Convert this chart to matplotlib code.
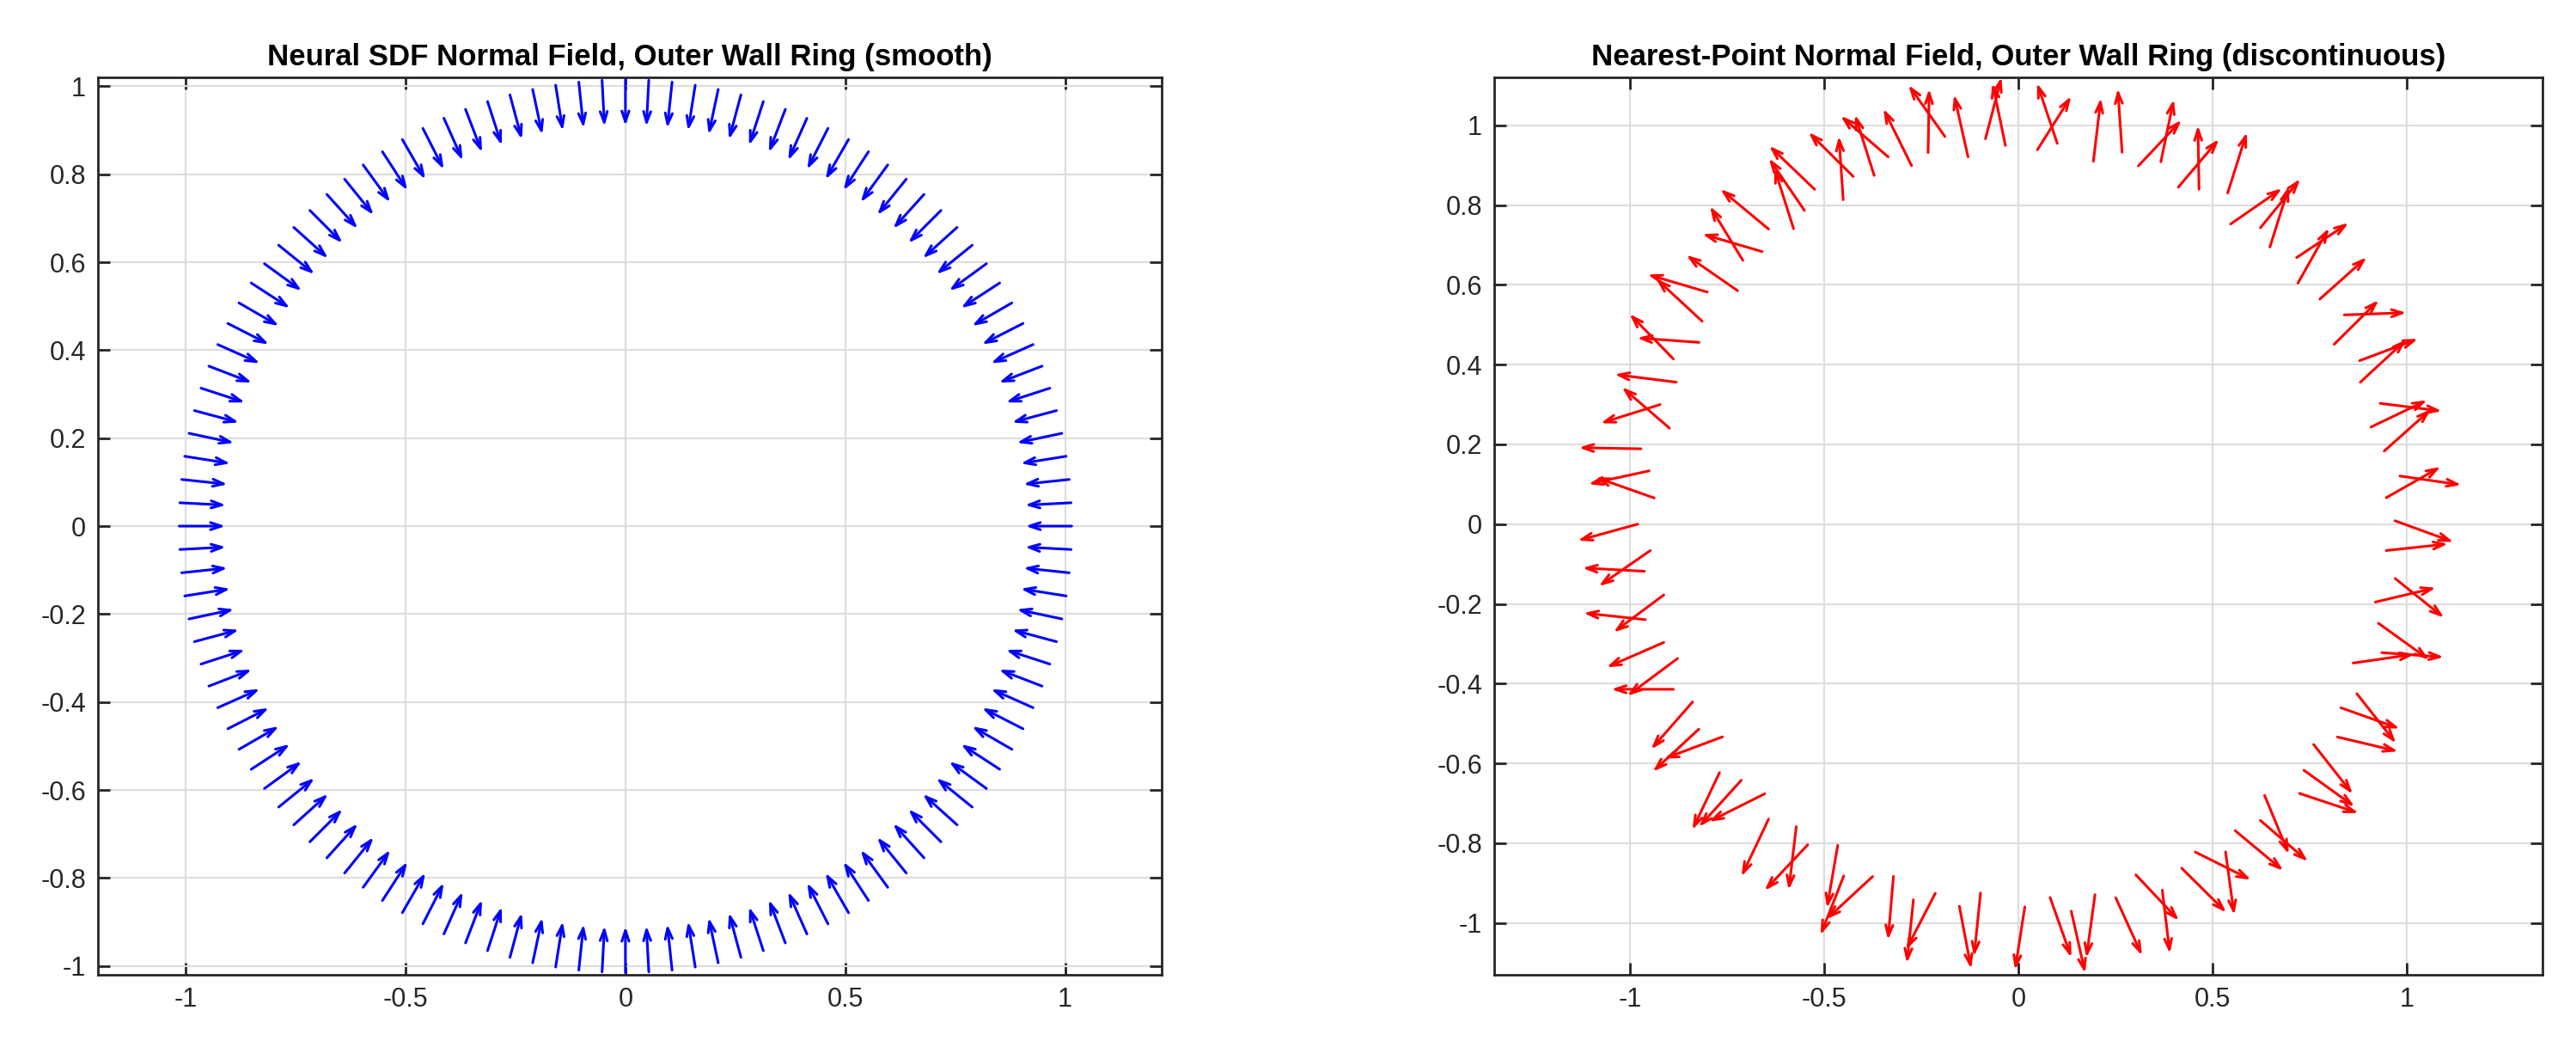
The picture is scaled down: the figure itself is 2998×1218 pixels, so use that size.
import numpy as np
import matplotlib
matplotlib.use("Agg")
import matplotlib.pyplot as plt

plt.rcParams['font.family'] = ['Liberation Sans', 'DejaVu Sans']

# left panel: neural SDF normals (smooth, pointing inward)
sdf_angles = [0, 3, 6, 9, 12, 15, 18, 21, 24, 27, 30, 33, 36, 39, 42, 45, 48, 51, 54, 57,
              60, 63, 66, 69, 72, 75, 78, 81, 84, 87, 90, 93, 96, 99, 102, 105, 108, 111, 114, 117,
              120, 123, 126, 129, 132, 135, 138, 141, 144, 147, 150, 153, 156, 159, 162, 165, 168, 171, 174, 177,
              180, 183, 186, 189, 192, 195, 198, 201, 204, 207, 210, 213, 216, 219, 222, 225, 228, 231, 234, 237,
              240, 243, 246, 249, 252, 255, 258, 261, 264, 267, 270, 273, 276, 279, 282, 285, 288, 291, 294, 297,
              300, 303, 306, 309, 312, 315, 318, 321, 324, 327, 330, 333, 336, 339, 342, 345, 348, 351, 354, 357]
sdf_radius = 1.015
sdf_len = 0.105

# right panel: nearest-point normals (noisy, pointing outward)
np_angles = [0.5, 4, 7, 11, 15, 18, 22, 25, 29, 32,
             36, 40, 43, 47, 50, 54, 57, 61, 64, 68,
             71, 74, 78, 81, 84, 87, 90, 92, 95, 98,
             101, 104, 107, 110, 113, 116, 119, 122, 125, 128,
             131, 134, 137, 141, 144, 148, 151, 155, 158, 162,
             165, 169, 172, 176, 180, 184, 187, 191, 194, 198,
             201, 205, 208, 212, 215, 219, 222, 226, 229, 233,
             236, 240, 243, 247, 250, 254, 257, 261, 264, 268,
             271, 275, 278, 282, 285, 289, 292, 296, 299, 303,
             306, 310, 313, 317, 320, 324, 327, 331, 334, 338,
             341, 345, 348, 352, 356]
np_offsets = [-20, 25, -15, 30, 10, -25, 20, -5, 15, -30,
              5, 20, -10, 25, 0, -20, 15, 30, -15, 10,
              -25, 20, 5, -10, 25, -30, 15, 10, -20, 5,
              25, -15, 10, 30, -5, 20, -25, 15, 0, -20,
              10, 30, -15, 5, 20, -10, 25, -20, 15, 35,
              -25, 10, 20, -15, 15, 30, -10, 25, -20, 5,
              15, -25, 20, 10, -15, 25, 5, -20, 15, 30,
              -10, 20, 5, -25, 15, 10, -15, 20, 0, 10,
              -10, 15, 5, -20, 10, 25, -15, 20, 35, -25,
              15, 10, -20, 25, 5, -15, 20, 10, -25, 30,
              15, -20, 25, -30, 10]
np_radii = [0.97, 0.95, 0.99, 0.96, 0.94, 0.98, 0.95, 0.97, 0.93, 0.99,
            0.96, 0.94, 0.98, 0.95, 0.97, 0.93, 0.99, 0.96, 0.94, 0.98,
            0.95, 0.97, 0.93, 0.99, 0.96, 0.94, 0.98, 0.95, 0.97, 0.93,
            0.99, 0.96, 0.94, 0.98, 0.95, 0.97, 0.93, 0.99, 0.96, 0.94,
            0.98, 0.95, 0.97, 0.93, 0.99, 0.96, 0.94, 0.98, 0.95, 0.97,
            0.93, 0.99, 0.96, 0.94, 0.98, 0.95, 0.97, 0.93, 0.99, 0.96,
            0.94, 0.98, 0.95, 0.97, 0.93, 0.99, 0.96, 0.94, 0.98, 0.95,
            0.97, 0.93, 0.99, 0.96, 0.94, 0.98, 0.95, 0.97, 0.93, 0.99,
            0.96, 0.94, 0.98, 0.95, 0.97, 0.93, 0.99, 0.96, 0.94, 0.98,
            0.95, 0.97, 0.93, 0.99, 0.96, 0.94, 0.98, 0.95, 0.97, 0.93,
            0.99, 0.96, 0.94, 0.98, 0.95]
np_len = 0.16

x_ticks = [-1, -0.5, 0, 0.5, 1]
y_ticks = [-1, -0.8, -0.6, -0.4, -0.2, 0, 0.2, 0.4, 0.6, 0.8, 1]


def fmt(v):
    return f"{v:g}"


def style_axes(ax, title, xlim, ylim):
    ax.set_xlim(*xlim)
    ax.set_ylim(*ylim)
    ax.set_xticks(x_ticks)
    ax.set_yticks(y_ticks)
    ax.set_xticklabels([fmt(v) for v in x_ticks])
    ax.set_yticklabels([fmt(v) for v in y_ticks])
    ax.grid(True, color='#dddddd', linewidth=1.5)
    ax.set_axisbelow(True)
    ax.tick_params(direction='in', length=10, width=2, labelsize=22, colors='#262626',
                   top=True, right=True, pad=10)
    for s in ax.spines.values():
        s.set_linewidth(2)
        s.set_color('#262626')
    ax.set_title(title, fontsize=25, fontweight='bold', pad=10)


def draw_arrow(ax, x0, y0, x1, y1, color):
    ax.annotate('', xy=(x1, y1), xytext=(x0, y0),
                arrowprops=dict(arrowstyle='->,head_length=0.9,head_width=0.3',
                                color=color, lw=2.2, shrinkA=0, shrinkB=0))


fig = plt.figure(figsize=(29.98, 12.18), dpi=100)
ax1 = fig.add_axes([0.038, 0.069, 0.413, 0.857])
ax2 = fig.add_axes([0.580, 0.069, 0.407, 0.857])

for a in sdf_angles:
    t = np.radians(a)
    x0, y0 = sdf_radius * np.cos(t), sdf_radius * np.sin(t)
    draw_arrow(ax1, x0, y0, x0 - sdf_len * np.cos(t), y0 - sdf_len * np.sin(t), 'blue')

for a, off, r in zip(np_angles, np_offsets, np_radii):
    t = np.radians(a)
    d = np.radians(a + off)
    x0, y0 = r * np.cos(t), r * np.sin(t)
    draw_arrow(ax2, x0, y0, x0 + np_len * np.cos(d), y0 + np_len * np.sin(d), 'red')

style_axes(ax1, "Neural SDF Normal Field, Outer Wall Ring (smooth)", (-1.2, 1.22), (-1.02, 1.02))
style_axes(ax2, "Nearest-Point Normal Field, Outer Wall Ring (discontinuous)", (-1.35, 1.35), (-1.13, 1.12))

fig.savefig("out.png", dpi=100)
